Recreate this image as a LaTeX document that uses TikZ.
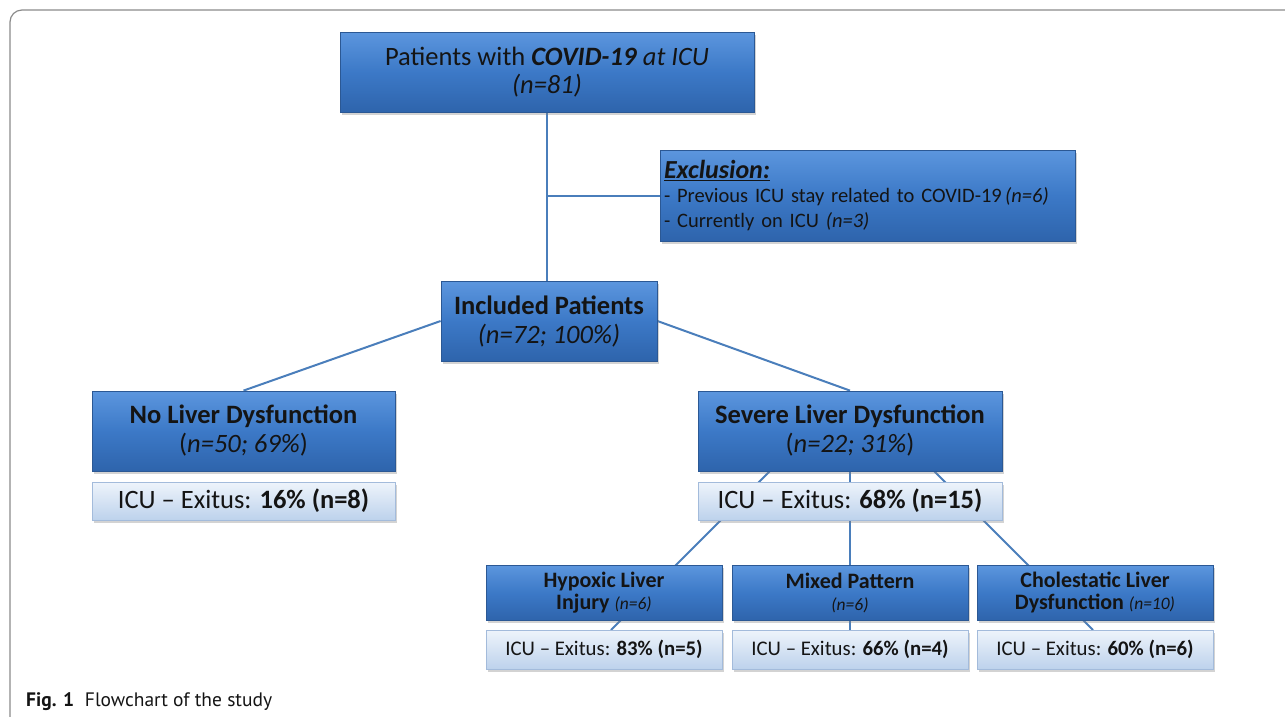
\documentclass[tikz,border=0pt]{standalone}
\usepackage{fontspec}
\setmainfont{Carlito}
\newfontfamily\capfont{PT Sans}
\usetikzlibrary{shadows,backgrounds,calc}
\definecolor{boxtop}{HTML}{5C96DE}
\definecolor{boxmid}{HTML}{3C79C7}
\definecolor{boxbot}{HTML}{2E64AC}
\definecolor{boxdraw}{HTML}{2B5894}
\definecolor{ltop}{HTML}{EEF4FB}
\definecolor{lbot}{HTML}{BDD2EC}
\definecolor{ldraw}{HTML}{A3BBDB}
\definecolor{linkc}{HTML}{4A7EBB}
\definecolor{txt}{HTML}{141414}
\definecolor{framec}{HTML}{8A8A8A}
\begin{document}
\begin{tikzpicture}[x=1pt,y=-1pt,
  darkbox/.style={rectangle, draw=boxdraw, line width=0.8pt, top color=boxtop, bottom color=boxbot, middle color=boxmid,
    align=center, text=txt, inner sep=2pt,
    drop shadow={opacity=0.35, shadow xshift=2pt, shadow yshift=-2.5pt}},
  lightbox/.style={rectangle, draw=ldraw, line width=0.8pt, top color=ltop, bottom color=lbot,
    align=center, text=txt, inner sep=2pt,
    drop shadow={opacity=0.35, shadow xshift=2pt, shadow yshift=-2.5pt}},
  link/.style={draw=linkc, line width=2pt},
  big/.style={font=\fontsize{26.5}{28.5}\selectfont},
  mid/.style={font=\fontsize{26.5}{29}\selectfont},
  sub/.style={font=\fontsize{22}{22}\selectfont},
  small/.style={font=\fontsize{20.8}{22}\selectfont}]
\useasboundingbox (0,0) rectangle (1285,716);
\draw[framec, line width=1.2pt, rounded corners=12pt] (1290,10) -- (10,10) -- (10,720);

\node[darkbox, big, minimum width=414pt, minimum height=80pt] (top) at (547,72)
  {Patients with \textbf{\textit{COVID-19}} \textit{at ICU}\\ \textit{(n=81)}};
\node[darkbox, minimum width=415pt, minimum height=91pt, text width=407pt, align=left, inner sep=4pt,
      font=\fontsize{20.5}{24.5}\selectfont] (excl) at (867.5,195.5)
  {\mbox{\fontsize{26}{26}\selectfont\underline{\textbf{\textit{Exclusion:}}}}\\
   \mbox{- Previous ICU stay related to COVID-19\,\textit{(n=6)}}\\
   \mbox{- Currently on ICU \textit{(n=3)}}};
\node[darkbox, mid, minimum width=216pt, minimum height=80pt] (inc) at (549,321)
  {\textbf{Included Patients}\\ \textit{(n=72; 100\%)}};
\node[darkbox, mid, minimum width=303pt, minimum height=80pt] (noliv) at (243.5,431)
  {\textbf{No Liver Dysfunction}\\ (\textit{n=50; 69\%})};
\node[lightbox, mid, minimum width=303pt, minimum height=38pt] (icu16) at (243.5,501)
  {ICU -- Exitus: \textbf{16\% (n=8)}};
\node[darkbox, mid, minimum width=304pt, minimum height=80pt] (sev) at (850,431)
  {\textbf{Severe Liver Dysfunction}\\ (\textit{n=22; 31\%})};
\node[lightbox, mid, minimum width=304pt, minimum height=38pt] (icu68) at (850,501)
  {ICU -- Exitus: \textbf{68\% (n=15)}};

\node[darkbox, sub, minimum width=236pt, minimum height=55pt] (hyp) at (604,592.5)
  {\textbf{Hypoxic Liver}\\ \textbf{Injury} {\fontsize{17.5}{18}\selectfont\textit{(n=6)}}};
\node[darkbox, sub, minimum width=236pt, minimum height=55pt] (mix) at (850,592.5)
  {\textbf{Mixed Pattern}\\ {\fontsize{17.5}{18}\selectfont\textit{(n=6)}}};
\node[darkbox, sub, minimum width=236pt, minimum height=55pt] (chol) at (1095,592.5)
  {\textbf{Cholestatic Liver}\\ \textbf{Dysfunction} {\fontsize{17.5}{18}\selectfont\textit{(n=10)}}};
\node[lightbox, small, minimum width=236pt, minimum height=39pt] (icu83) at (604,649.5)
  {ICU -- Exitus: \textbf{83\% (n=5)}};
\node[lightbox, small, minimum width=236pt, minimum height=39pt] (icu66) at (850,649.5)
  {ICU -- Exitus: \textbf{66\% (n=4)}};
\node[lightbox, small, minimum width=236pt, minimum height=39pt] (icu60) at (1095,649.5)
  {ICU -- Exitus: \textbf{60\% (n=6)}};

\coordinate (s1) at (810,431);
\coordinate (e1) at (611,630);
\coordinate (s3) at (894,431);
\coordinate (e3) at (1093,630);

\begin{scope}[on background layer]
  \draw[link] (top.south) -- (top.south |- inc.north);
  \draw[link] (top.south |- excl.west) -- (excl.west);
  \draw[link] (inc.west) -- (noliv.north);
  \draw[link] (inc.east) -- (sev.north);
  \draw[link] (s1) -- (e1);
  \draw[link] (sev.center) -- (icu66.north);
  \draw[link] (s3) -- (e3);
\end{scope}

\node[anchor=base west, inner sep=0pt, font=\capfont\fontsize{19.5}{22}\selectfont, text=txt] (cap) at (26,706)
  {\textbf{Fig. 1}\hspace{0.55em}Flowchart of the study};
\end{tikzpicture}
\end{document}
